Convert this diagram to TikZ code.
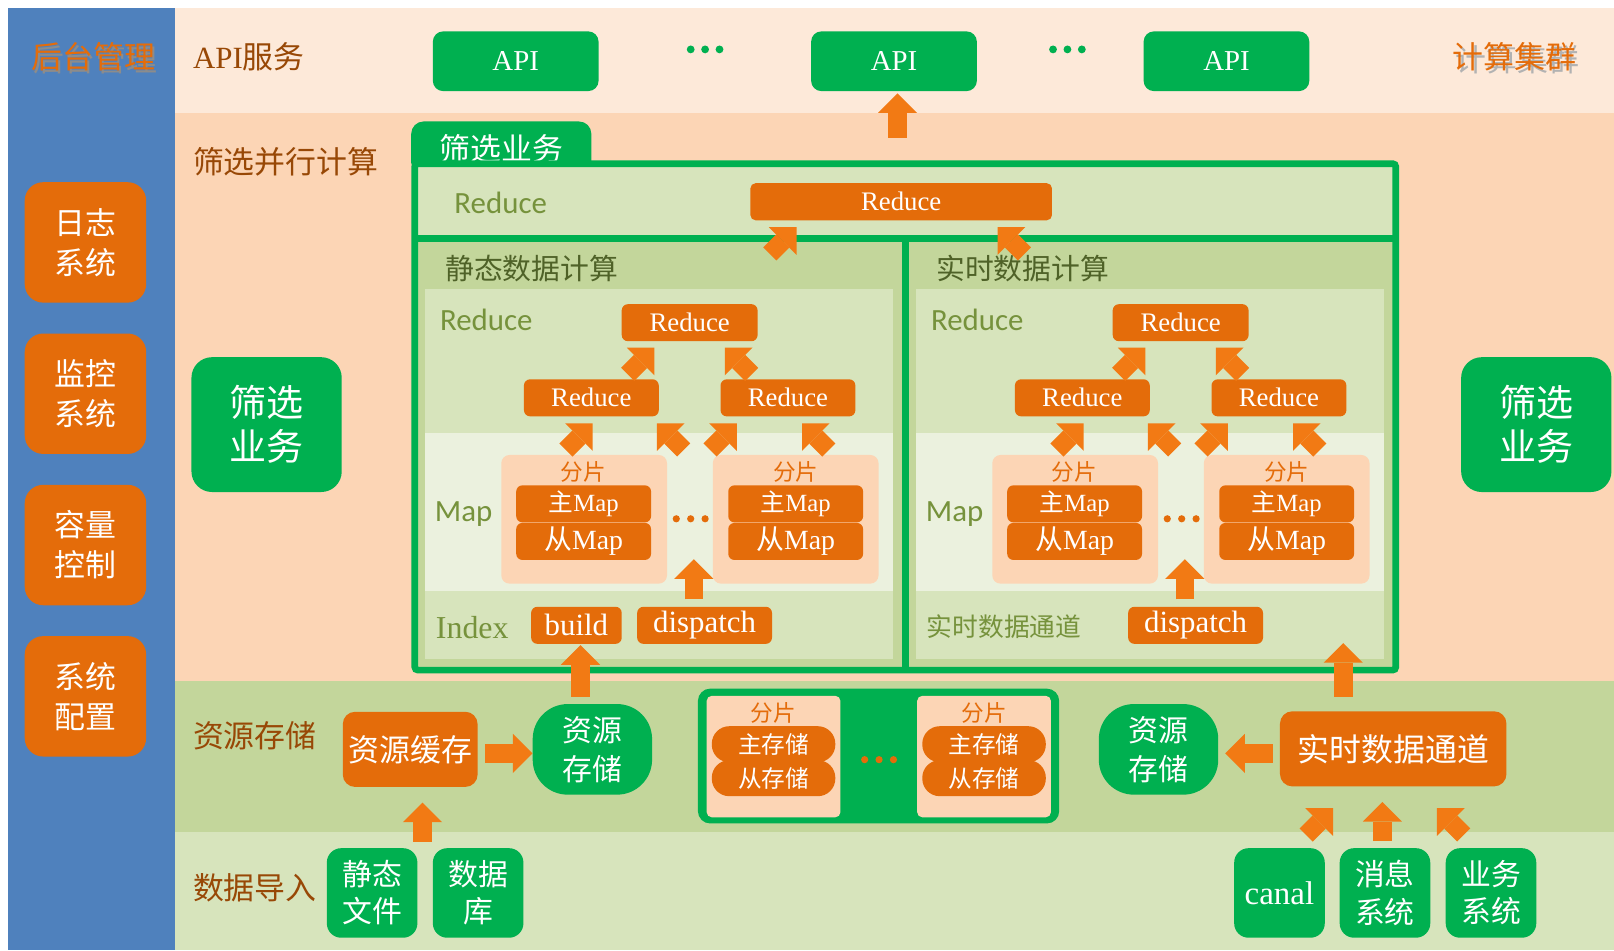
\documentclass[tikz,border=0pt]{standalone}
\usepackage{fontspec}
\setmainfont{Liberation Serif}
\newfontfamily\cjk{Noto Sans CJK SC}
\newfontfamily\lat{Liberation Serif}
\newfontfamily\calfont{Carlito}
\usetikzlibrary{arrows.meta,calc}
\definecolor{bluecol}{HTML}{4F81BD}
\definecolor{apiband}{HTML}{FDE9D9}
\definecolor{filtband}{HTML}{FCD5B5}
\definecolor{resband}{HTML}{C3D69B}
\definecolor{impband}{HTML}{D7E4BC}
\definecolor{maprow}{HTML}{EBF1DE}
\definecolor{grn}{HTML}{00B050}
\definecolor{org}{HTML}{E46C0A}
\definecolor{arr}{HTML}{F27A14}
\definecolor{shardc}{HTML}{FCD5B5}
\definecolor{olive}{HTML}{76923C}
\definecolor{darkolive}{HTML}{4F6228}
\definecolor{bandtxt}{HTML}{984806}
\newcommand\fsz[2]{\fontsize{#1}{#2}\selectfont}

\begin{document}
\begin{tikzpicture}[x=1pt, y=-1pt,
    gbox/.style={fill=grn, rounded corners=14pt, text=white, align=center, inner sep=0pt},
    obox/.style={fill=org, rounded corners=6pt, text=white, align=center, inner sep=0pt},
    fat/.style={draw=arr, line width=18pt, -{Triangle[length=19pt,width=38pt,line width=0pt]}},
    band/.style={text=bandtxt, anchor=west, font=\cjk\fsz{30}{36}},
    lbl/.style={text=olive, anchor=west, font=\calfont\fsz{30}{36}},
    redbox/.style={obox, minimum width=131, minimum height=36, font=\lat\fsz{26}{30}},
    idxbox/.style={obox, minimum height=36, font=\lat\fsz{30}{34}},
    shard/.style={fill=shardc, rounded corners=8pt, minimum width=161, minimum height=125, inner sep=0pt},
    barrel/.style={gbox, rounded corners=34pt, minimum width=116, minimum height=88, font=\cjk\fsz{29}{38}},
    srcbox/.style={gbox, rounded corners=14pt, minimum width=88, minimum height=87, font=\cjk\fsz{29}{36}}]

  \useasboundingbox (0,0) rectangle (1568,923);
  \fill[white] (0,0) rectangle (1568,923);
  \fill[apiband] (170,8) rectangle (1568,110);
  \fill[filtband] (170,110) rectangle (1568,662);
  \fill[resband] (170,662) rectangle (1568,808);
  \fill[impband] (170,808) rectangle (1568,923);
  \fill[bluecol] (8,8) rectangle (170,923);

  \node[text=black!45, font=\cjk\fsz{30}{36}] at (93,58) {后台管理};
  \node[text=org, font=\cjk\fsz{30}{36}] (admin) at (90.5,55) {后台管理};
  \node[text=black!30, font=\cjk\fsz{30}{36}] at (1474,58) {计算集群};
  \node[text=org, font=\cjk\fsz{30}{36}] (cluster) at (1471.5,55) {计算集群};
  \foreach \y/\a/\b [count=\i] in {235.5/日志/系统, 382.5/监控/系统, 529.5/容量/控制, 676.5/系统/配置}
    \node[obox, rounded corners=18pt, minimum width=118, minimum height=117, font=\cjk\fsz{30}{39}] (adm\i) at (83,\y) {\a\\\b};

  \node[band] (apit) at (184,55) {{\lat API}服务};
  \node[band] (filt) at (184,157) {筛选并行计算};
  \node[band] (rest) at (184,715) {资源存储};
  \node[band] (impt) at (184,862) {数据导入};

  \foreach \x [count=\i] in {501,868.5,1191.5}
    \node[gbox, rounded corners=10pt, minimum width=161, minimum height=58, font=\lat\fsz{28}{32}] (api\i) at (\x,59.5) {API};
  \foreach \x in {685,1037}
    \foreach \k in {-14,0,14}
      \fill[grn] (\x+\k,48) circle (3.8pt);

  \node[gbox, rounded corners=12pt, minimum width=175, minimum height=52, font=\cjk\fsz{30}{36}] (tab) at (487,144) {筛选业务};
  \fill[impband] (403,160) rectangle (1356,232);
  \fill[resband] (403,232) rectangle (1356,651);
  \foreach \dx in {0,477} {
    \fill[impband] (413+\dx,281) rectangle (868+\dx,421);
    \fill[maprow] (413+\dx,421) rectangle (868+\dx,574);
    \fill[impband] (413+\dx,574) rectangle (868+\dx,640);
  }
  \draw[grn, line width=6.5pt, rounded corners=3pt] (403,159) rectangle (1356,651);
  \draw[grn, line width=6.5pt] (403,232) -- (1356,232) (879.5,232) -- (879.5,651);

  \node[lbl] at (438,197) {Reduce};
  \node[redbox, minimum width=293, rounded corners=5pt] (rtop) at (875.5,196) {Reduce};
  \node[text=darkolive, anchor=west, font=\cjk\fsz{28}{32}] (statt) at (429,261) {静态数据计算};
  \node[text=darkolive, anchor=west, font=\cjk\fsz{28}{32}] (realt) at (906,261) {实时数据计算};

  \foreach \dx/\s in {0/L,477/R} {
    \node[lbl] at (424+\dx,311) {Reduce};
    \node[lbl] at (419+\dx,499) {Map};
    \node[redbox, minimum width=132] (rt\s) at (670+\dx,313.5) {Reduce};
    \node[redbox] (ra\s) at (574.5+\dx,386.5) {Reduce};
    \node[redbox] (rb\s) at (765.5+\dx,386.5) {Reduce};
    \node[shard] (sa\s) at (567.5+\dx,504.5) {};
    \node[shard] (sb\s) at (773+\dx,504.5) {};
    \foreach \x/\n in {567/a,773/b} {
      \node[text=org, font=\cjk\fsz{22}{26}] at (\x+\dx,458) {分片};
      \node[redbox, font=\cjk\fsz{24}{28}] (mm\n\s) at (\x+\dx,489.5) {主{\lat Map}};
      \node[redbox, font=\cjk\fsz{27}{30}] (ms\n\s) at (\x+\dx,526) {从{\lat Map}};
    }
    \foreach \k in {-14,0,14}
      \fill[org] (671+\dx+\k,504) circle (3.5pt);
    \node[idxbox, minimum width=131] (disp\s) at (684.5+\dx,607.5) {dispatch};

    \draw[fat] ($(ra\s.south west)+(41,32.5)$) -- ++(26,-26);
    \draw[fat] ($(ra\s.south east)+(24,32.5)$) -- ++(-26,-26);
    \draw[fat] ($(rb\s.south west)+(-10,32.5)$) -- ++(26,-26);
    \draw[fat] ($(rb\s.south east)+(-26,32.5)$) -- ++(-26,-26);
    \draw[fat] ($(rt\s.south west)+(6,32)$) -- ++(26,-26);
    \draw[fat] ($(rt\s.south east)+(-6,32)$) -- ++(-26,-26);
    \draw[fat] ($(disp\s.north)+(-10.5,-7)$) -- ++(0,-39);
  }
  \node[text=olive, anchor=west, font=\lat\fsz{31}{34}] (idx) at (420,610) {Index};
  \node[idxbox, minimum width=88] (build) at (560,607.5) {build};
  \node[text=olive, anchor=west, font=\cjk\fsz{25}{30}] (rtdt) at (897,609) {实时数据通道};

  \draw[fat] ($(rtop.south west)+(19,32.5)$) -- ++(26,-26);
  \draw[fat] ($(rtop.south east)+(-27,32.5)$) -- ++(-26,-26);
  \draw[fat] ($(api2.south)+(3.5,45)$) -- ++(0,-43);

  \node[gbox, rounded corners=20pt, minimum width=146, minimum height=131, font=\cjk\fsz{36}{43}] (fl) at (259,412.5) {筛选\\业务};
  \node[gbox, rounded corners=20pt, minimum width=146, minimum height=131, font=\cjk\fsz{36}{43}] (fr) at (1492.5,412.5) {筛选\\业务};

  \node[obox, rounded corners=12pt, minimum width=131, minimum height=73, font=\cjk\fsz{30}{36}] (rc) at (398.5,728) {资源缓存};
  \node[barrel] (resL) at (575.5,728) {资源\\存储};
  \node[gbox, rounded corners=12pt, minimum width=351, minimum height=131] (store) at (853.5,734.5) {};
  \foreach \x [count=\i] in {751.5,956} {
    \node[fill=shardc, rounded corners=5pt, minimum width=130, minimum height=118, inner sep=0pt] (ss\i) at (\x,735) {};
    \node[text=org, font=\cjk\fsz{22}{26}] at (\x,693) {分片};
    \node[obox, rounded corners=17pt, minimum width=120, minimum height=35, font=\cjk\fsz{23}{26}] (sm\i) at (\x,723) {主存储};
    \node[obox, rounded corners=17pt, minimum width=120, minimum height=35, font=\cjk\fsz{23}{26}] (sl\i) at (\x,756) {从存储};
  }
  \foreach \k in {-14,0,14}
    \fill[org] (854+\k,738) circle (3.5pt);
  \node[barrel] (resR) at (1125.5,728) {资源\\存储};
  \node[obox, rounded corners=12pt, minimum width=220, minimum height=73, font=\cjk\fsz{31}{36}] (rtd) at (1353.5,727.5) {实时数据通道};

  \draw[fat] ($(resL.north)+(-11.5,-7)$) -- ++(0,-50);
  \draw[fat] ($(rtd.north)+(-48.5,-14)$) -- ++(0,-52);
  \draw[fat] ($(rc.east)+(7,4)$) -- (resL.west |- {$(rc.east)+(0,4)$});
  \draw[fat] ($(rtd.west)+(-7,4.5)$) -- ++(-46,0);

  \foreach \x/\a/\b [count=\i] in {361.5/静态/文件, 464.5/数据/库}
    \node[srcbox] (imp\i) at (\x,867.5) {\a\\\b};
  \node[srcbox, font=\lat\fsz{32}{36}] (canal) at (1243,867.5) {canal};
  \node[srcbox] (msg) at (1345.5,867.5) {消息\\系统};
  \node[srcbox] (biz) at (1448.5,867.5) {业务\\系统};

  \draw[fat] ($(rc.south)+(12,53)$) -- ++(0,-38);
  \draw[fat] ($(rtd.south)+(-84.5,47)$) -- ++(26,-26);
  \draw[fat] ($(rtd.south)+(-10.5,53)$) -- ++(0,-38);
  \draw[fat] ($(rtd.south)+(68.5,47)$) -- ++(-26,-26);
\end{tikzpicture}
\end{document}
